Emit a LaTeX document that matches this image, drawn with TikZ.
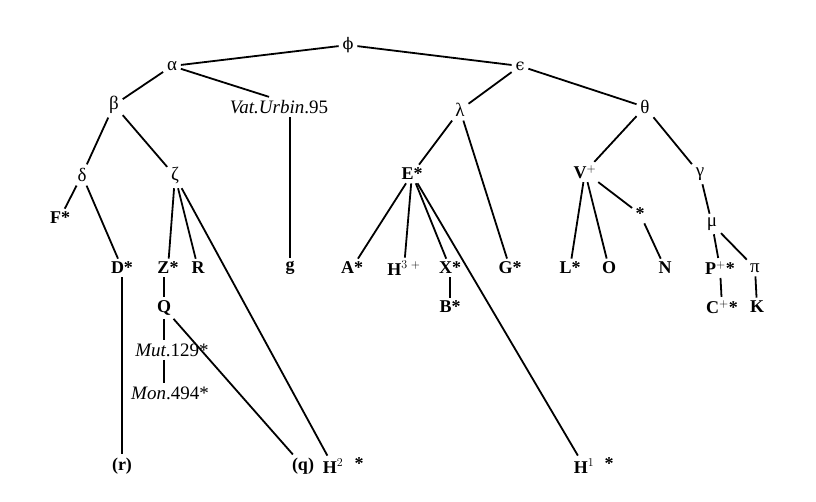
\documentclass[tikz,border=0pt]{standalone}
\usepackage{fontspec}
\setmainfont{Liberation Serif}
\newfontfamily\gkalt{DejaVu Serif}
\begin{document}
\begin{tikzpicture}[x=1pt,y=-1pt,
  ms/.style={font=\bfseries\fontsize{18}{18}\selectfont, inner sep=2.5pt},
  gk/.style={font=\fontsize{19}{19}\selectfont, inner sep=3pt},
  it/.style={font=\fontsize{19}{19}\selectfont, inner sep=2.5pt},
  every path/.style={line width=1.8pt}]
\useasboundingbox (0,0) rectangle (816,502);
% Greek (hyparchetypes)
\node[gk] (phi) at (348,45) {{\gkalt\fontsize{16}{16}\selectfont ϕ}};
\node[gk] (alpha) at (172,66) {α};
\node[gk] (eps) at (520,66) {{\gkalt\fontsize{16}{16}\selectfont ϵ}};
\node[gk] (beta) at (114,105) {β};
\node[it] (vat) at (279,107) {\textit{Vat.Urbin}.95};
\node[gk] (lam) at (460,110) {λ};
\node[gk] (theta) at (645,107) {θ};
\node[gk] (delta) at (82,175) {δ};
\node[gk] (zeta) at (175,176) {ζ};
\node[gk] (gam) at (700,174) {γ};
\node[gk] (mu) at (712,224) {μ};
\node[gk] (pi) at (755,268) {π};
% manuscripts
\node[ms] (E) at (412,174) {E*};
\node[ms] (V) at (585,172) {V$^{+}$};
\node[ms] (F) at (60,218) {F*};
\node[ms] (D) at (122,268) {D*};
\node[ms] (Z) at (168,268) {Z*};
\node[ms] (R) at (198,268) {R};
\node[ms] (g) at (290,268) {g};
\node[ms] (A) at (352,268) {A*};
\node[ms] (H3) at (404,268) {H$^{3}$\,$^{+}$};
\node[ms] (X) at (450,268) {X*};
\node[ms] (G) at (510,268) {G*};
\node[ms] (L) at (570,268) {L*};
\node[ms] (O) at (609,268) {O};
\node[ms] (st) at (640,214) {*};
\node[ms] (N) at (665,268) {N};
\node[ms] (P) at (720,268) {P$^{+}$*};
\node[ms] (B) at (450,307) {B*};
\node[ms] (C) at (722,307) {C$^{+}$*};
\node[ms] (K) at (757,307) {K};
\node[ms] (Q) at (164,308) {Q};
\node[it] (mut) at (172,350) {\textit{Mut}.129*};
\node[it] (mon) at (170,393) {\textit{Mon}.494*};
\node[ms] (r) at (122,466) {(r)};
\node[ms] (q) at (303,466) {(q)};
\node[ms] (H2) at (333,466) {H$^{2}$};
\node[ms] (H2s) at (359,464) {*};
\node[ms] (H1) at (584,466) {H$^{1}$};
\node[ms] (H1s) at (609,464) {*};
% connectors
\draw (phi) -- (alpha);
\draw (phi) -- (eps);
\draw (alpha) -- ([xshift=-10pt]vat.north);
\draw (alpha) -- (beta);
\draw (beta) -- (delta);
\draw (beta) -- (zeta);
\draw (delta) -- (F);
\draw (delta) -- (D);
\draw (zeta) -- (Z);
\draw (zeta) -- (R);
\draw (zeta) -- (H2);
\draw (vat.south -| g.north) -- (g);
\draw (eps) -- (lam);
\draw (eps) -- (theta);
\draw (lam) -- (E);
\draw (lam) -- (G);
\draw (E) -- (A);
\draw (E) -- (H3);
\draw (E) -- (X);
\draw (E) -- (H1);
\draw (X) -- (B);
\draw (theta) -- (V);
\draw (theta) -- (gam);
\draw (V) -- (L);
\draw (V) -- (O);
\draw (V) -- (st);
\draw (st) -- (N);
\draw (gam) -- (mu);
\draw (mu) -- (P);
\draw (mu) -- (pi);
\draw (P) -- (C);
\draw (pi) -- (K);
\draw (D) -- (r);
\draw (Z.south -| Q.north) -- (Q);
\draw (Q) -- (Q |- mut.north);
\draw (mut.south -| Q.south) -- (mon.north -| Q.south);
\draw (Q) -- (q);
\end{tikzpicture}
\end{document}
